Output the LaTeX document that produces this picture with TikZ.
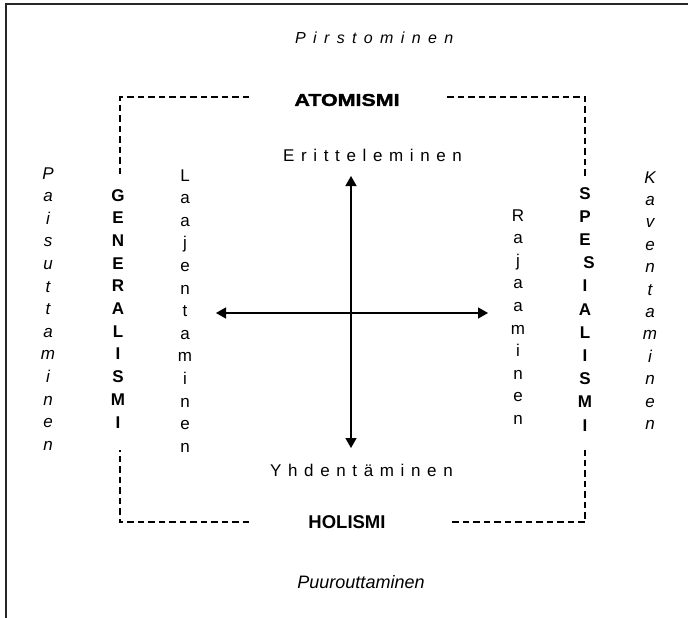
\documentclass[tikz,border=0pt]{standalone}
\usepackage{fontspec}
\setmainfont{Liberation Sans}
\usetikzlibrary{arrows.meta}
\begin{document}
\begin{tikzpicture}[x=1pt,y=-1pt,
  txt/.style={inner sep=0pt, anchor=center},
  spaced/.style={inner sep=0pt, anchor=base west, font=\fontsize{17}{19}\selectfont\addfontfeature{LetterSpace=39}},
  spacedit/.style={inner sep=0pt, anchor=base west, font=\fontsize{16}{19}\selectfont\itshape\addfontfeature{LetterSpace=46}},
  heavy/.style={txt, font=\fontsize{17}{19}\selectfont\bfseries\addfontfeature{FakeBold=2,FakeStretch=1.26}},
  narrowbold/.style={txt, font=\fontsize{18.5}{20}\selectfont\bfseries},
  narrowit/.style={txt, font=\fontsize{18}{20}\selectfont\itshape},
  vreg/.style={inner sep=0pt, anchor=base, font=\fontsize{17}{19}\selectfont},
  vit/.style={inner sep=0pt, anchor=base, font=\fontsize{17}{19}\selectfont\itshape},
  vbold/.style={inner sep=0pt, anchor=base, font=\fontsize{17}{19}\selectfont\bfseries},
  frame/.style={line width=2.2pt, draw=black!85},
  dashline/.style={line width=1.2pt, dash pattern=on 6.5pt off 4pt},
  arr/.style={line width=1.4pt, {Triangle[length=10pt,width=11pt]}-{Triangle[length=10pt,width=11pt]}}
]
\useasboundingbox (0,0) rectangle (688,618);
% outer frame (left and top only)
\draw[frame] (6,618) -- (6,4) -- (688,4);

% horizontal labels
\node[spacedit] (pirst) at (295,44) {Pirstominen};
\node[heavy] (atom) at (347,100) {ATOMISMI};
\node[spaced] (eritt) at (283,161) {Eritteleminen};
\node[spaced] (yhden) at (270,476) {Yhdentäminen};
\node[narrowbold] (holis) at (347,522) {HOLISMI};
\node[narrowit] (puuro) at (361,582) {Puurouttaminen};

% dashed frame
\coordinate (tl) at (120,97);
\coordinate (tr) at (585,97);
\coordinate (bl) at (120,522);
\coordinate (br) at (585,522);
\coordinate (tA) at (249,97);
\coordinate (tB) at (447,97);
\coordinate (bA) at (249,522);
\coordinate (bB) at (452,522);
\coordinate (lA) at (120,176);
\coordinate (lB) at (120,450);
\coordinate (rA) at (585,176);
\coordinate (rB) at (585,450);
\draw[dashline] (tA) -- (tl) -- (lA);
\draw[dashline] (tB) -- (tr) -- (rA);
\draw[dashline] (bA) -- (bl) -- (lB);
\draw[dashline] (bB) -- (br) -- (rB);

% axes
\coordinate (up) at (351,176);
\coordinate (down) at (351,448);
\coordinate (left) at (216,313);
\coordinate (right) at (488,313);
\draw[arr] (down) -- (up);
\draw[arr] (left) -- (right);

% vertical words (baselines)
\foreach \c [count=\i from 0] in {P,a,i,s,u,t,t,a,m,i,n,e,n}
  \node[vit] (pai\i) at (48,{179+22.6*\i}) {\c};
\foreach \c [count=\i from 0] in {G,E,N,E,R,A,L,I,S,M,I}
  \node[vbold] (gen\i) at (118,{201+22.7*\i}) {\c};
\foreach \c [count=\i from 0] in {L,a,a,j,e,n,t,a,m,i,n,e,n}
  \node[vreg] (laa\i) at (185,{181+22.6*\i}) {\c};
\foreach \c [count=\i from 0] in {R,a,j,a,a,m,i,n,e,n}
  \node[vreg] (raj\i) at (518,{221+22.6*\i}) {\c};
\foreach \c [count=\i from 0] in {S,P,E}
  \node[vbold] (spe\i) at (585,{199+23.2*\i}) {\c};
\node[vbold] (spe3) at (589,{199+23.2*3}) {S};
\foreach \c [count=\i from 4] in {I,A,L,I,S,M,I}
  \node[vbold] (spe\i) at (585,{199+23.2*\i}) {\c};
\foreach \c [count=\i from 0] in {K,a,v,e,n,t,a,m,i,n,e,n}
  \node[vit] (kav\i) at (650,{183+22.4*\i}) {\c};
\end{tikzpicture}
\end{document}
